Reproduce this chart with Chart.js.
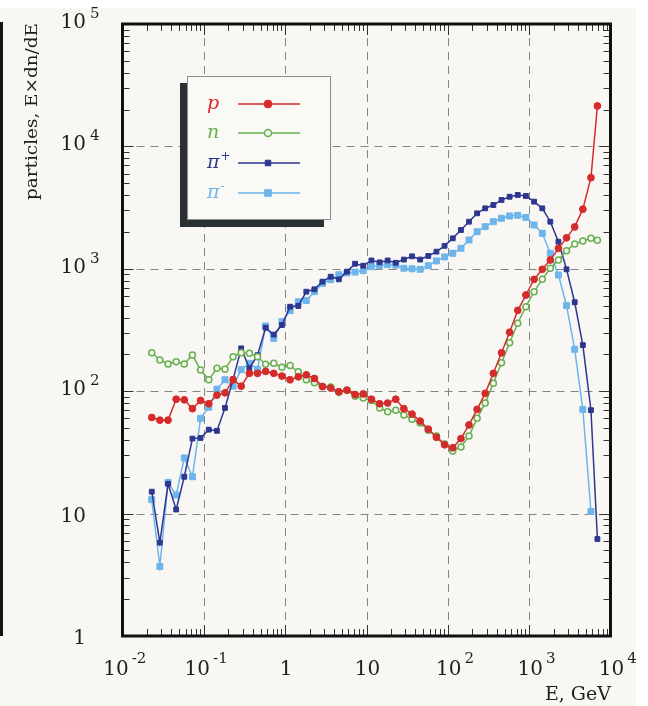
<!DOCTYPE html>
<html>
<head>
<meta charset="utf-8">
<script src="https://cdn.jsdelivr.net/npm/chart.js@4.4.0/dist/chart.umd.min.js"></script>
<style>
  html, body { margin: 0; padding: 0; background: #fff; }
  #myChart { display: block; }
</style>
</head>
<body>
<canvas id="myChart" width="648" height="706"></canvas>
<script>
// energy bins, GeV (last entry is the end point of the spectrum)
var energy = [0.0229, 0.0288, 0.0363, 0.0457, 0.0575, 0.0724, 0.0912, 0.115, 0.145, 0.182,
  0.229, 0.288, 0.363, 0.457, 0.575, 0.724, 0.912, 1.15, 1.45, 1.82,
  2.29, 2.88, 3.63, 4.57, 5.75, 7.24, 9.12, 11.5, 14.5, 18.2,
  22.9, 28.8, 36.3, 45.7, 57.5, 72.4, 91.2, 115, 145, 182,
  229, 288, 363, 457, 575, 724, 912, 1150, 1450, 1820,
  2290, 2880, 3630, 4570, 5750, 6900];

// E x dn/dE for each particle type
var protons = [61, 58, 58, 86, 85, 72, 84, 79, 93, 97,
  124, 110, 140, 140, 145, 140, 133, 124, 131, 136,
  127, 109, 106, 99, 102, 94, 95, 86, 79, 80,
  86, 72, 65, 57, 49, 42, 36.5, 34.5, 41, 53,
  71, 96, 140, 206, 303, 458, 611, 820, 991, 1180,
  1470, 1790, 2200, 3070, 5550, 21400];

var neutrons = [206, 180, 167, 174, 167, 198, 149, 124, 154, 151,
  191, 206, 204, 191, 166, 169, 157, 162, 144, 124,
  117, 109, 108, 98, 102, 91, 88, 84, 73, 68,
  70, 64, 59, 55, 48, 43, 37, 32.5, 35, 43,
  60, 80, 116, 171, 249, 359, 490, 650, 820, 1010,
  1180, 1405, 1595, 1690, 1775, 1710];

var pionsPlus = [15.1, 5.8, 17.5, 10.8, 20, 41, 41.5, 48.5, 47.5, 73,
  125, 224, 154, 197, 330, 290, 347, 490, 497, 650,
  680, 785, 862, 820, 948, 1100, 1060, 1170, 1130, 1170,
  1120, 1190, 1265, 1190, 1273, 1380, 1540, 1775, 2075, 2425,
  2840, 3120, 3320, 3650, 3880, 4010, 3935, 3535, 3120, 2425,
  1665, 991, 533, 238, 70, 6.2];

var pionsMinus = [13, 3.7, 18, 14.2, 28.5, 20, 60, 74, 104, 124,
  110, 150, 169, 151, 341, 270, 370, 455, 538, 550,
  650, 760, 815, 895, 925, 940, 965, 1040, 1060, 1080,
  1070, 1010, 1000, 991, 1060, 1160, 1250, 1340, 1470, 1720,
  2010, 2210, 2425, 2585, 2700, 2735, 2630, 2280, 1950, 1340,
  890, 500, 220, 71, 10.4];

// axis labels: mantissa and exponent drawn separately
var xTickValues = [0.01, 0.1, 1, 10, 100, 1000, 10000];
var xTickBase = ['10', '10', '1', '10', '10', '10', '10'];
var xTickExp = ['-2', '-1', '', '', '2', '3', '4'];
var yTickValues = [1, 10, 100, 1000, 10000, 100000];
var yTickBase = ['1', '10', '10', '10', '10', '10'];
var yTickExp = ['', '', '2', '3', '4', '5'];

var legendNames = ['p', 'n', '\u03c0', '\u03c0'];
var legendSup = ['', '', '+', '-'];

function points(values) {
  return values.map(function (v, i) { return { x: energy[i], y: v }; });
}

var SERIF = '"DejaVu Serif", "Liberation Serif", serif';
var BG = '#f8f7f3';

var paperPlugin = {
  id: 'paper',
  beforeDraw: function (chart) {
    var ctx = chart.ctx;
    ctx.save();
    ctx.fillStyle = '#ffffff';
    ctx.fillRect(0, 0, chart.width, chart.height);
    ctx.fillStyle = BG;
    ctx.fillRect(0, 8, 636, chart.height - 8);
    // edge of the neighbouring panel
    ctx.fillStyle = '#151515';
    ctx.fillRect(0, 22, 3, 614);
    ctx.restore();
  },
  beforeDatasetsDraw: function (chart) {
    var ctx = chart.ctx, a = chart.chartArea;
    var xs = chart.scales.x, ys = chart.scales.y;
    ctx.save();
    ctx.strokeStyle = '#858585';
    ctx.lineWidth = 1;
    ctx.setLineDash([8, 6]);
    xTickValues.slice(1, -1).forEach(function (v) {
      var x = Math.round(xs.getPixelForValue(v)) + 0.5;
      ctx.beginPath(); ctx.moveTo(x, a.top); ctx.lineTo(x, a.bottom); ctx.stroke();
    });
    yTickValues.slice(1, -1).forEach(function (v) {
      var y = Math.round(ys.getPixelForValue(v)) + 0.5;
      ctx.beginPath(); ctx.moveTo(a.left, y); ctx.lineTo(a.right, y); ctx.stroke();
    });
    ctx.restore();
  }
};

var framePlugin = {
  id: 'frame',
  afterDatasetsDraw: function (chart) {
    var ctx = chart.ctx, a = chart.chartArea;
    var xs = chart.scales.x, ys = chart.scales.y;
    ctx.save();

    // inner tick marks on all four sides
    ctx.strokeStyle = '#333';
    ctx.lineWidth = 1;
    ctx.beginPath();
    for (var k = -2; k <= 3; k++) {
      for (var m = 1; m <= 9; m++) {
        var x = Math.round(xs.getPixelForValue(m * Math.pow(10, k))) + 0.5;
        var len = m === 1 ? 11 : 7;
        ctx.moveTo(x, a.bottom); ctx.lineTo(x, a.bottom - len);
        ctx.moveTo(x, a.top); ctx.lineTo(x, a.top + len);
      }
    }
    for (k = 0; k <= 4; k++) {
      for (m = 1; m <= 9; m++) {
        var y = Math.round(ys.getPixelForValue(m * Math.pow(10, k))) + 0.5;
        len = m === 1 ? 11 : 7;
        ctx.moveTo(a.left, y); ctx.lineTo(a.left + len, y);
        ctx.moveTo(a.right, y); ctx.lineTo(a.right - len, y);
      }
    }
    ctx.stroke();

    ctx.strokeStyle = '#111';
    ctx.lineWidth = 3;
    ctx.strokeRect(a.left, a.top, a.right - a.left, a.bottom - a.top);

    // x tick labels
    ctx.fillStyle = '#1e1e1e';
    ctx.textBaseline = 'alphabetic';
    xTickValues.forEach(function (v, i) {
      var px = xs.getPixelForValue(v);
      ctx.font = '20px ' + SERIF;
      var w = ctx.measureText(xTickBase[i]).width;
      var cx = px + (xTickExp[i].charAt(0) === '-' ? -6.5 : 1);
      ctx.textAlign = 'left';
      ctx.fillText(xTickBase[i], cx - w / 2, 675);
      if (xTickExp[i]) {
        ctx.font = '15px ' + SERIF;
        ctx.fillText(xTickExp[i], cx + w / 2 + 3, 663);
      }
    });

    // y tick labels
    yTickValues.forEach(function (v, i) {
      var py = ys.getPixelForValue(v);
      var dy = yTickExp[i] ? -4 : 0;
      ctx.font = '20px ' + SERIF;
      ctx.textAlign = 'right';
      ctx.fillText(yTickBase[i], 86, py + 8 + dy);
      if (yTickExp[i]) {
        ctx.font = '15px ' + SERIF;
        ctx.textAlign = 'left';
        ctx.fillText(yTickExp[i], 90, py - 2 + dy);
      }
    });

    // axis titles
    ctx.font = '19px ' + SERIF;
    ctx.textAlign = 'right';
    ctx.fillText('E, GeV', 611, 700);

    ctx.save();
    ctx.translate(36.5, 111.5);
    ctx.rotate(-Math.PI / 2);
    ctx.font = '17px ' + SERIF;
    var title = 'particles, E\u00d7dn/dE';
    var tw = ctx.measureText(title).width;
    ctx.scale(177 / tw, 1);
    ctx.textAlign = 'center';
    ctx.fillText(title, 0, 0);
    ctx.restore();

    // legend with drop shadow
    var bx = 187, by = 76, bw = 144, bh = 144;
    ctx.fillStyle = '#2b3034';
    ctx.fillRect(bx - 7, by + 7, bw, bh);
    ctx.fillStyle = '#f9f9f6';
    ctx.fillRect(bx, by, bw, bh);
    ctx.strokeStyle = '#8c8c8c';
    ctx.lineWidth = 1;
    ctx.strokeRect(bx + 0.5, by + 0.5, bw - 1, bh - 1);

    var rows = [104, 133, 163, 193];
    chart.data.datasets.forEach(function (ds, i) {
      var ry = rows[i];
      ctx.font = 'italic 19px ' + SERIF;
      ctx.textAlign = 'left';
      ctx.fillStyle = ds.borderColor;
      ctx.fillText(legendNames[i], 207, ry + 5);
      if (legendSup[i]) {
        var nw = ctx.measureText(legendNames[i]).width;
        ctx.font = '12px ' + SERIF;
        ctx.fillText(legendSup[i], 208 + nw, ry - 3);
      }
      ctx.strokeStyle = ds.borderColor;
      ctx.lineWidth = 1.6;
      ctx.beginPath(); ctx.moveTo(238, ry); ctx.lineTo(300, ry); ctx.stroke();
      ctx.fillStyle = ds.pointBackgroundColor;
      ctx.lineWidth = ds.pointBorderWidth;
      Chart.helpers.drawPoint(ctx, {
        pointStyle: ds.pointStyle, radius: ds.pointRadius + 0.5,
        rotation: 0, borderWidth: ds.pointBorderWidth
      }, 268, ry);
    });

    ctx.restore();
  }
};

function series(label, values, color, fill, style, radius, bw) {
  return {
    label: label,
    data: points(values),
    borderColor: color,
    backgroundColor: color,
    pointBackgroundColor: fill,
    pointBorderColor: color,
    pointStyle: style,
    pointRadius: radius,
    pointBorderWidth: bw,
    borderWidth: 1.5,
    showLine: true,
    tension: 0
  };
}

var ctx1 = document.getElementById('myChart').getContext('2d');

var myChart1 = new Chart(ctx1, {
  type: 'scatter',
  data: {
    datasets: [
      series('p', protons, '#d52b2b', '#d52b2b', 'circle', 3.4, 1),
      series('n', neutrons, '#66b04f', BG, 'circle', 3.0, 1.5),
      series('\u03c0+', pionsPlus, '#2e3690', '#2e3690', 'rect', 3.4, 1),
      series('\u03c0-', pionsMinus, '#6db5ea', '#6db5ea', 'rect', 4.2, 1)
    ]
  },
  options: {
    responsive: false,
    animation: false,
    layout: { padding: { left: 122.5, right: 37.5, top: 24, bottom: 70 } },
    plugins: {
      legend: { display: false },
      tooltip: { enabled: false }
    },
    scales: {
      x: { type: 'logarithmic', min: 0.01, max: 10000, display: false },
      y: { type: 'logarithmic', min: 1, max: 100000, display: false }
    }
  },
  plugins: [paperPlugin, framePlugin]
});
</script>
</body>
</html>
